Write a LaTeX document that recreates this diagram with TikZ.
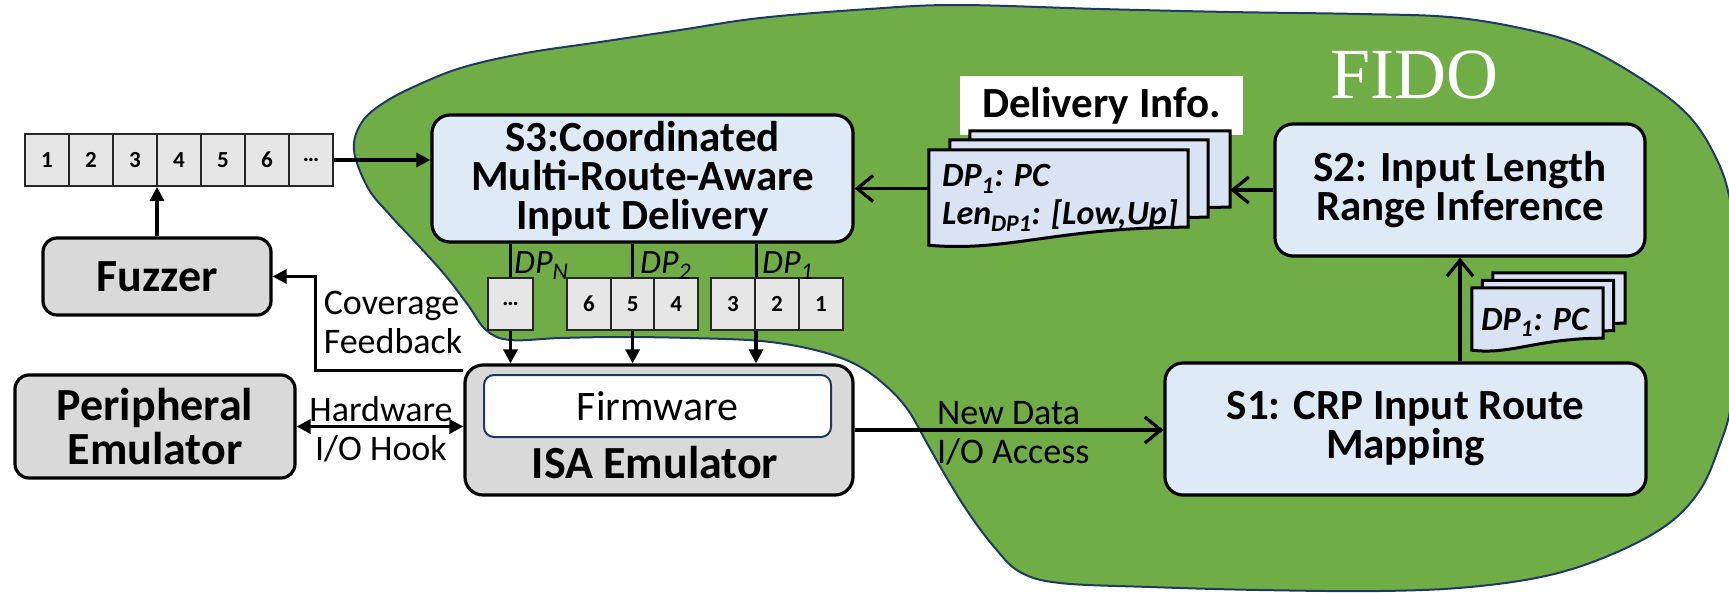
\documentclass[tikz,border=0pt]{standalone}
\usepackage{fontspec}
\setmainfont{Carlito}
\newfontfamily\fidofont{Liberation Serif}
\usetikzlibrary{arrows.meta,positioning,calc}
\definecolor{fidogreen}{HTML}{70AD47}
\definecolor{fidoedge}{HTML}{203864}
\definecolor{stageblue}{HTML}{DEEBF7}
\definecolor{hostgray}{HTML}{D9D9D9}
\definecolor{cellgray}{HTML}{E7E6E6}
\definecolor{pageblue}{HTML}{DAE3F3}
\newcommand{\stagefont}{\bfseries\fontsize{43}{39}\selectfont}
\newcommand{\hostfont}{\bfseries\fontsize{46}{44}\selectfont}
\newcommand{\lblfont}{\fontsize{36}{39}\selectfont}
\newcommand{\cellfont}{\bfseries\fontsize{23}{23}\selectfont}
\newcommand{\pagefont}{\bfseries\itshape\fontsize{34}{38}\selectfont}
\tikzset{
  stagebox/.style={draw=black,line width=3.2pt,rounded corners=18pt,fill=stageblue,align=center,font=\stagefont,inner sep=0pt},
  hostbox/.style={stagebox,fill=hostgray,rounded corners=14pt,font=\hostfont},
  cellnode/.style={draw=black!85,line width=2pt,fill=cellgray,minimum width=44pt,minimum height=52pt,inner sep=0pt,font=\cellfont},
  pagebody/.style={inner sep=0pt},
  pageline/.style={draw=black,line width=3pt,fill=pageblue},
  flowedge/.style={-{Triangle[length=14pt,width=14pt]},line width=3.2pt},
  bothedge/.style={{Triangle[length=14pt,width=14pt]}-{Triangle[length=14pt,width=14pt]},line width=3.2pt},
  openedge/.style={-{Straight Barb[length=16pt,width=26pt]},line width=3.2pt},
  plainedge/.style={line width=3pt},
  lbl/.style={font=\lblfont,align=center,inner sep=0pt},
  dplbl/.style={font=\itshape\fontsize{34}{34}\selectfont,inner sep=0pt,anchor=base west},
}
% sheet of paper with a wavy lower edge: name, centre, width, height, wave
\newcommand{\docsheet}[5]{%
  \node[pagebody,minimum width=#3pt,minimum height=#4pt] (#1) at (#2) {};
  \draw[pageline] (#1.north west) -- (#1.north east) -- (#1.south east)
    .. controls ($(#1.south east)!0.5!(#1.south west)$)
    and ($(#1.south west)!0.3!(#1.south east)+(0,#5*1.4)$)
    .. ($(#1.south west)+(0,#5)$) -- cycle;
}

\begin{document}
\begin{tikzpicture}[x=1pt,y=-1pt]
  \useasboundingbox (0,0) rectangle (1729,592);

  % the FIDO area
  \filldraw[fill=fidogreen,draw=fidoedge,line width=2pt] plot[smooth cycle,tension=0.6] coordinates {
    (354,150) (362,122) (385,102) (420,84) (464,67) (526,53) (600,42) (680,30)
    (760,18) (869,9) (957,5) (1100,9) (1229,12) (1360,14) (1449,17) (1520,28)
    (1580,45) (1640,78) (1685,112) (1712,150) (1730,200) (1742,300) (1732,400)
    (1719,447) (1700,490) (1668,524) (1615,553) (1550,575) (1470,587) (1380,591)
    (1260,590) (1150,587) (1060,583) (1020,572) (995,548) (970,515) (948,480)
    (928,445) (908,410) (885,385) (855,364) (815,350) (761,341) (690,338)
    (620,337) (560,338) (510,340) (486,330) (468,305) (445,275) (418,245)
    (390,215) (368,188)};
  \node[text=white,font=\fidofont\fontsize{72}{72}\selectfont,anchor=base] (fido) at (1414,98) {FIDO};

  % input queue
  \foreach \v [count=\i from 0] in {1,2,3,4,5,6,\dots}
    \node[cellnode] (q\i) at ({47+44*\i},160) {\v};

  % host side
  \node[hostbox,minimum width=228pt,minimum height=77pt] (fuzzer) at (157,276.5) {Fuzzer};
  \node[hostbox,minimum width=280pt,minimum height=103pt] (periph) at (155,426.5) {Peripheral\\Emulator};
  \node[hostbox,minimum width=388pt,minimum height=130pt,rounded corners=18pt] (isa) at (659,430) {};
  \node[font=\hostfont,anchor=base] (isaname) at (655,478) {ISA Emulator};
  \node[draw=fidoedge,line width=2pt,fill=white,rounded corners=10pt,minimum width=347pt,minimum height=62pt,
    font=\fontsize{42}{42}\selectfont] (fw) at (657.5,406) {Firmware};

  % stages
  \node[stagebox,minimum width=421pt,minimum height=127pt] (s3) at (642.5,178.5) {S3:Coordinated\\Multi-Route-Aware\\Input Delivery};
  \node[stagebox,minimum width=370pt,minimum height=132pt] (s2) at (1460,190) {S2: Input Length\\Range Inference};
  \node[stagebox,minimum width=481pt,minimum height=132pt] (s1) at (1405.5,429) {S1: CRP Input Route\\Mapping};

  % per-route queues
  \node[cellnode,minimum width=45pt] (rN) at (510.5,304) {\dots};
  \foreach \v [count=\i] in {6,5,4}
    \node[cellnode] (rb\i) at ({545.2+43.7*\i},304) {\v};
  \foreach \v [count=\i] in {3,2,1}
    \node[cellnode] (ra\i) at ({689+44*\i},304) {\v};

  \draw[plainedge] (rN.north |- s3.south) -- (rN.north);
  \draw[flowedge] (rN.south) -- (rN.south |- isa.north);
  \draw[plainedge] (rb2.north |- s3.south) -- (rb2.north);
  \draw[flowedge] (rb2.south) -- (rb2.south |- isa.north);
  \draw[plainedge] (ra1.north east |- s3.south) -- (ra1.north east);
  \draw[flowedge] (ra1.south east) -- (ra1.south east |- isa.north);
  \node[dplbl] (dpN) at (514,273) {DP\textsubscript{N}};
  \node[dplbl] (dpB) at (640,273) {DP\textsubscript{2}};
  \node[dplbl] (dpA) at (762,273) {DP\textsubscript{1}};

  % host connectors
  \draw[flowedge] (q6.east) -- (q6.east -| s3.west);
  \draw[flowedge] (fuzzer.north) -- (fuzzer.north |- q3.south);
  \draw[flowedge] ([yshift=-7pt]isa.north west) -| ([xshift=43pt]fuzzer.east) -- (fuzzer.east);
  \node[lbl,align=left] (cov) at (393,322) {Coverage\\Feedback};
  \draw[bothedge] (periph.east) -- (periph.east -| isa.west);
  \node[lbl] (hwlbl) at (381,429) {Hardware\\I/O Hook};
  \draw[openedge] (isa.east) -- (isa.east -| s1.west);
  \node[lbl,align=left,anchor=west] (newlbl) at (937,433) {New Data\\I/O Access};
  \draw[openedge] (s2.south |- s1.north) -- (s2.south);

  % delivery information
  \node[fill=white,minimum width=283pt,minimum height=59pt,inner sep=0pt,font=\stagefont] (dinfo) at (1101.5,105.5) {Delivery Info.};
  \docsheet{dC}{1100,169}{260}{76}{18}
  \docsheet{dB}{1079,178.5}{258}{77}{18}
  \docsheet{dA}{1058.5,188.5}{259}{77}{18}
  \node[font=\pagefont,align=left,anchor=west,inner sep=0pt] (dAtext) at (942,198) {DP\textsubscript{1}: PC\\Len\textsubscript{DP1}: [Low,Up]};
  \draw[openedge] (s2.west) -- (s2.west -| dC.east);
  \draw[openedge] (dA.west) -- (dA.west -| s3.east);

  \docsheet{eC}{1559,298}{132}{50}{12}
  \docsheet{eB}{1548,305.5}{131}{50}{12}
  \docsheet{eA}{1537.5,313}{131}{50}{12}
  \node[font=\pagefont,anchor=base west,inner sep=0pt] (eAtext) at (1481,330) {DP\textsubscript{1}: PC};
\end{tikzpicture}
\end{document}
